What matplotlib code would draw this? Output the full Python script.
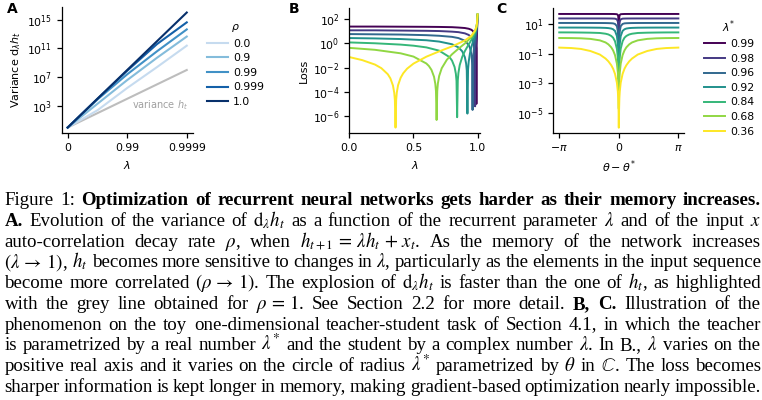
import re
import numpy as np
import matplotlib
matplotlib.use("Agg")
import matplotlib.pyplot as plt

W_PX, H_PX = 762, 400

# ---------------- panel A: variance of d_lambda h_t (log10 values)
a_lambda = [0.0, 0.9, 0.99, 0.999, 0.9999]
a_rho_labels = ["0.0", "0.9", "0.99", "0.999", "1.0"]
a_logvar_rho_0 = [0.0, 2.4, 5.5, 8.4, 11.38]
a_logvar_rho_09 = [0.0, 3.3, 6.6, 9.7, 12.65]
a_logvar_rho_099 = [0.0, 3.9, 7.4, 10.6, 13.64]
a_logvar_rho_0999 = [0.0, 4.0, 7.9, 11.6, 14.62]
a_logvar_rho_1 = [0.0, 4.0, 8.0, 12.0, 15.99]
a_logvar_h = [0.0, 2.0, 4.0, 6.0, 8.0]
a_xticks = [0.0, 0.99, 0.9999]
a_xticklabels = ["0", "0.99", "0.9999"]

# ---------------- panel B: loss along the real axis (log10 values)
b_teachers = ["0.99", "0.98", "0.96", "0.92", "0.84", "0.68", "0.36"]
b_lam_099 = [0, 0.2, 0.4, 0.6, 0.7, 0.8, 0.85, 0.9, 0.93, 0.95, 0.96, 0.97, 0.98,
             0.985, 0.988, 0.99, 0.992, 0.995, 0.999]
b_log_099 = [1.39, 1.39, 1.38, 1.37, 1.36, 1.34, 1.31, 1.27, 1.21, 1.13, 1.05, 0.92, 0.62,
             0.22, -0.42, -5.00, -0.16, 0.92, 2.27]
b_lam_098 = [0, 0.2, 0.4, 0.6, 0.7, 0.8, 0.85, 0.9, 0.93, 0.95, 0.96, 0.97, 0.975,
             0.978, 0.98, 0.982, 0.985, 0.99, 0.995, 0.999]
b_log_098 = [1.08, 1.08, 1.06, 1.04, 1.02, 0.97, 0.93, 0.83, 0.70, 0.51, 0.33, -0.07, -0.55,
             -1.26, -5.20, -1.13, -0.22, 0.62, 1.35, 2.33]
b_lam_096 = [0, 0.2, 0.4, 0.6, 0.7, 0.8, 0.85, 0.9, 0.93, 0.94, 0.95, 0.955, 0.957, 0.96,
             0.963, 0.965, 0.97, 0.98, 0.99, 0.995, 0.999]
b_log_096 = [0.77, 0.75, 0.73, 0.68, 0.63, 0.54, 0.44, 0.22, -0.13, -0.37, -0.85, -1.38, -1.79,
             -5.50, -1.70, -1.22, -0.52, 0.33, 1.05, 1.53, 2.37]
b_lam_092 = [0, 0.2, 0.4, 0.6, 0.7, 0.8, 0.85, 0.88, 0.9, 0.91, 0.915, 0.92, 0.925, 0.93,
             0.94, 0.95, 0.96, 0.97, 0.98, 0.99, 0.995, 0.999]
b_log_092 = [0.44, 0.41, 0.36, 0.26, 0.15, -0.07, -0.33, -0.66, -1.14, -1.67, -2.24, -5.80,
             -2.16, -1.51, -0.81, -0.35, 0.03, 0.38, 0.76, 1.24, 1.62, 2.38]
b_lam_084 = [0, 0.2, 0.4, 0.5, 0.6, 0.7, 0.78, 0.8, 0.82, 0.83, 0.835, 0.84, 0.845, 0.85,
             0.86, 0.88, 0.9, 0.93, 0.95, 0.97, 0.98, 0.99, 0.995, 0.999]
b_log_084 = [0.08, 0.01, -0.10, -0.19, -0.33, -0.60, -1.13, -1.42, -1.95, -2.51, -3.10, -6.10,
             -3.06, -2.44, -1.79, -1.10, -0.64, -0.08, 0.27, 0.68, 0.94, 1.32, 1.66, 2.39]
b_lam_068 = [0, 0.2, 0.4, 0.5, 0.6, 0.62, 0.64, 0.66, 0.67, 0.675, 0.68, 0.685, 0.69, 0.7,
             0.72, 0.76, 0.8, 0.85, 0.9, 0.95, 0.98, 0.99, 0.995, 0.999]
b_log_068 = [-0.37, -0.53, -0.82, -1.09, -1.66, -1.87, -2.19, -2.76, -3.35, -3.94, -6.33, -3.92,
             -3.31, -2.69, -2.05, -1.35, -0.90, -0.44, -0.01, 0.51, 1.02, 1.36, 1.68, 2.39]
b_lam_036 = [0, 0.1, 0.2, 0.25, 0.3, 0.32, 0.34, 0.35, 0.355, 0.36, 0.365, 0.37, 0.38, 0.4,
             0.42, 0.45, 0.5, 0.6, 0.7, 0.8, 0.9, 0.95, 0.98, 0.99, 0.995, 0.999]
b_log_036 = [-1.13, -1.38, -1.75, -2.05, -2.55, -2.89, -3.48, -4.08, -4.68, -6.96, -4.67, -4.06,
             -3.45, -2.84, -2.47, -2.09, -1.67, -1.10, -0.66, -0.25, 0.24, 0.62, 1.07, 1.38,
             1.69, 2.40]

# ---------------- panel C: loss on the circle, one half (curve is symmetric in theta)
c_theta_half = [0.003, 0.01, 0.03, 0.05, 0.1, 0.2, 0.3, 0.4, 0.55, 0.7, 1.0, 1.5, 2.0, 2.5, np.pi]
c_log_099 = [0.04, 0.99, 1.54, 1.63, 1.68, 1.69, 1.695, 1.696, 1.697, 1.697, 1.697, 1.697, 1.697, 1.697, 1.697]
c_log_098 = [-0.87, 0.16, 0.94, 1.18, 1.33, 1.38, 1.386, 1.389, 1.391, 1.392, 1.393, 1.393, 1.393, 1.393, 1.393]
c_log_096 = [-1.78, -0.74, 0.16, 0.52, 0.87, 1.02, 1.06, 1.07, 1.077, 1.082, 1.085, 1.087, 1.087, 1.088, 1.088]
c_log_092 = [-2.71, -1.67, -0.73, -0.31, 0.20, 0.55, 0.66, 0.71, 0.74, 0.754, 0.766, 0.772, 0.775, 0.776, 0.776]
c_log_084 = [-3.67, -2.63, -1.68, -1.24, -0.66, -0.15, 0.09, 0.21, 0.31, 0.36, 0.41, 0.43, 0.44, 0.447, 0.449]
c_log_068 = [-4.71, -3.66, -2.71, -2.27, -1.67, -1.09, -0.77, -0.56, -0.36, -0.23, -0.09, 0.01, 0.05, 0.064, 0.071]
c_log_036 = [-6.00, -4.96, -4.00, -3.56, -2.96, -2.36, -2.01, -1.77, -1.51, -1.32, -1.05, -0.81, -0.67, -0.61, -0.58]

plt.rcParams["font.size"] = 7.8
plt.rcParams["axes.linewidth"] = 0.9
plt.rcParams["xtick.major.width"] = 0.9
plt.rcParams["ytick.major.width"] = 0.9

fig = plt.figure(figsize=(W_PX / 100, H_PX / 100), dpi=100)


def axes_px(left, top, right, bottom):
    return fig.add_axes([left / W_PX, 1 - bottom / H_PX, (right - left) / W_PX, (bottom - top) / H_PX])


def despine(ax):
    ax.spines["top"].set_visible(False)
    ax.spines["right"].set_visible(False)
    ax.yaxis.set_minor_locator(matplotlib.ticker.NullLocator())
    ax.xaxis.set_minor_locator(matplotlib.ticker.NullLocator())


legend_kw = dict(bbox_transform=fig.transFigure, frameon=False, fontsize=7.8, title_fontsize=7.8,
                 handlelength=1.95, handletextpad=0.45, labelspacing=0.42, borderpad=0,
                 borderaxespad=0, loc="upper left")

# ---- A
axA = axes_px(61.7, 6.7, 192.7, 133.3)
axA.set_xscale("function", functions=(lambda l: -np.log10(1 - np.asarray(l)),
                                      lambda x: 1 - 10 ** (-np.asarray(x))))
axA.set_yscale("log")
blues = plt.cm.Blues(np.linspace(0.25, 1.0, 5))
axA.plot(a_lambda, 10 ** np.array(a_logvar_h), color="#bdbdbd", lw=1.5)
for vals, lab, col in zip([a_logvar_rho_0, a_logvar_rho_09, a_logvar_rho_099,
                           a_logvar_rho_0999, a_logvar_rho_1], a_rho_labels, blues):
    axA.plot(a_lambda, 10 ** np.array(vals), color=col, lw=1.5, label=lab)
axA.set_xlim(1 - 10 ** 0.2, 1 - 10 ** -4.2)
axA.set_ylim(10 ** -0.8, 10 ** 16.8)
axA.set_xticks(a_xticks)
axA.set_xticklabels(a_xticklabels)
axA.set_yticks([1e3, 1e7, 1e11, 1e15])
despine(axA)
axA.set_xlabel(r"$\lambda$", fontsize=8)
axA.set_ylabel(r"Variance $\mathrm{d}_\lambda h_t$", fontsize=8, labelpad=3)
axA.text(0.535, 0.2, r"variance $h_t$", transform=axA.transAxes, color="#a0a0a0", fontsize=7)
legA = axA.legend(title=r"$\rho$", bbox_to_anchor=(207 / W_PX, 1 - 22.5 / H_PX), **legend_kw)
legA._legend_box.sep = 3

# ---- B
viridis = plt.cm.viridis(np.linspace(0, 1, 7))
axB = axes_px(349.3, 8.3, 480, 133.3)
axB.set_yscale("log")
b_lams = [b_lam_099, b_lam_098, b_lam_096, b_lam_092, b_lam_084, b_lam_068, b_lam_036]
b_logs = [b_log_099, b_log_098, b_log_096, b_log_092, b_log_084, b_log_068, b_log_036]
for lam, lg, col in zip(b_lams, b_logs, viridis):
    axB.plot(lam, 10 ** np.array(lg), color=col, lw=1.4)
axB.set_xlim(0, 1.018)
axB.set_ylim(10 ** -7.43, 10 ** 2.9)
axB.set_xticks([0.0, 0.5, 1.0])
axB.set_yticks([1e2, 1e0, 1e-2, 1e-4, 1e-6])
despine(axB)
axB.set_xlabel(r"$\lambda$", fontsize=8)
axB.set_ylabel("Loss", fontsize=8, labelpad=3)

# ---- C
axC = axes_px(553.3, 8.3, 684.3, 133.3)
axC.set_yscale("log")
c_theta = np.concatenate([-np.array(c_theta_half)[::-1], c_theta_half])
c_logs = [c_log_099, c_log_098, c_log_096, c_log_092, c_log_084, c_log_068, c_log_036]
for lg, lab, col in zip(c_logs, b_teachers, viridis):
    vals = np.concatenate([np.array(lg)[::-1], lg])
    axC.plot(c_theta, 10 ** vals, color=col, lw=1.4, label=lab)
axC.set_xlim(-1.1 * np.pi, 1.1 * np.pi)
axC.set_ylim(10 ** -6.38, 10 ** 2.08)
axC.set_xticks([-np.pi, 0, np.pi])
axC.set_xticklabels([r"$-\pi$", "0", r"$\pi$"])
axC.set_yticks([1e1, 1e-1, 1e-3, 1e-5])
despine(axC)
axC.set_xlabel(r"$\theta - \theta^{*}$", fontsize=8)
legC = axC.legend(title=r"$\lambda^{*}$", bbox_to_anchor=(704 / W_PX, 1 - 18.5 / H_PX), **legend_kw)
legC._legend_box.sep = 3

for lab, xp in [("A", 6.5), ("B", 288.5), ("C", 496.5)]:
    fig.text(xp / W_PX, 1 - 13 / H_PX, lab, fontsize=10, fontweight="bold", va="baseline")

# ---------------- caption, justified word by word
caption_lines = [
    [("Figure 1:", False), ("Optimization of recurrent neural networks gets harder as their memory increases.", True)],
    [("A.", True), (r"Evolution of the variance of $\mathrm{d}_\lambda h_t$ as a function of the recurrent parameter $\lambda$ and of the input $x$", False)],
    [(r"auto-correlation decay rate $\rho$, when $h_{t+1}\,=\,\lambda h_t\,+\,x_t$. As the memory of the network increases", False)],
    [(r"$(\lambda\,\rightarrow\,1)$, $h_t$ becomes more sensitive to changes in $\lambda$, particularly as the elements in the input sequence", False)],
    [(r"become more correlated $(\rho\,\rightarrow\,1)$. The explosion of $\mathrm{d}_\lambda h_t$ is faster than the one of $h_t$, as highlighted", False)],
    [(r"with the grey line obtained for $\rho\,=\,1$. See Section 2.2 for more detail.", False), ("B, C.", True), ("Illustration of the", False)],
    [("phenomenon on the toy one-dimensional teacher-student task of Section 4.1, in which the teacher", False)],
    [(r"is parametrized by a real number $\lambda^{\!*}$ and the student by a complex number $\lambda$. In B., $\lambda$ varies on the", False)],
    [(r"positive real axis and it varies on the circle of radius $\lambda^{\!*}$ parametrized by $\theta$ in $\mathbb{C}$. The loss becomes", False)],
    [("sharper information is kept longer in memory, making gradient-based optimization nearly impossible.", False)],
]
CAP_FS = 13.6
cap_left, cap_right = 4.5, 761.0
first_base, line_step = 205.3, 20.7

renderer = fig.canvas.get_renderer()
for i, line in enumerate(caption_lines):
    words = []
    for chunk, bold in line:
        for w in re.findall(r"(?:\$[^$]*\$|\S)+", chunk):
            t = fig.text(0, 1 - (first_base + i * line_step) / H_PX, w, fontsize=CAP_FS,
                         family="Liberation Serif", fontweight="bold" if bold else "normal",
                         math_fontfamily="stix", va="baseline", ha="left")
            words.append(t)
    widths = [t.get_window_extent(renderer).width for t in words]
    gap = (cap_right - cap_left - sum(widths)) / (len(words) - 1)
    x = cap_left
    for t, w in zip(words, widths):
        t.set_x(x / W_PX)
        x += w + gap

fig.savefig("out.png", dpi=100)
